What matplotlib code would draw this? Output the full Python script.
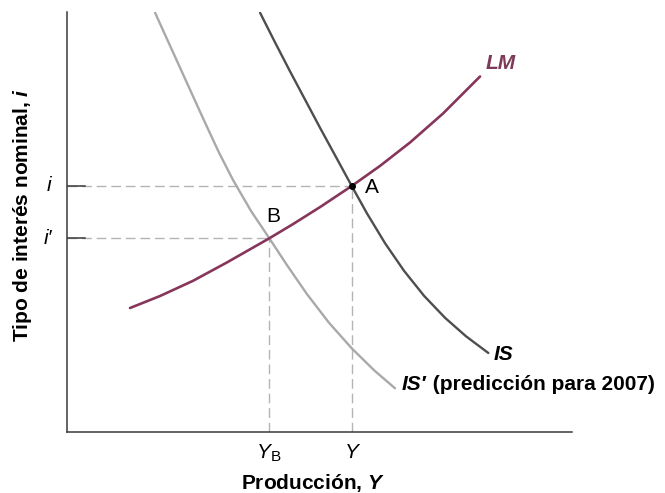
import numpy as np
import matplotlib
matplotlib.use("Agg")
import matplotlib.pyplot as plt

plt.rcParams['font.family'] = ['Liberation Sans', 'DejaVu Sans']
plt.rcParams['mathtext.fontset'] = 'custom'
plt.rcParams['mathtext.rm'] = 'Liberation Sans'
plt.rcParams['mathtext.it'] = 'Liberation Sans:italic'
plt.rcParams['mathtext.bf'] = 'Liberation Sans:bold'
if 'mathtext.bfit' in plt.rcParams:
    plt.rcParams['mathtext.bfit'] = 'Liberation Sans:bold:italic'
    BFIT = r'\mathbfit'
else:
    BFIT = r'\mathit'

# curves (output on x, interest rate on y)
is_x = [193, 208, 223, 238, 253, 268, 284.7, 300, 318, 337, 357, 378, 399, 421.3]
is_y = [419.3, 389.6, 360.6, 332.4, 304.2, 276.7, 246, 218.5, 188.8, 161.2, 136.2, 114.2, 95.7, 79]

is2_x = [88, 104, 120, 136, 152, 166, 184, 202.3, 220, 240, 262, 285, 307, 328]
is2_y = [419.3, 384.1, 348.9, 313.7, 279.3, 252, 221, 193.7, 166.8, 137.8, 109.2, 83.4, 61.8, 43.7]

lm_x = [63, 93, 126, 160, 202.3, 226, 253, 284.7, 313, 343, 376, 413]
lm_y = [124, 136, 151.2, 169.6, 193.7, 207.9, 224.9, 246, 266.1, 289.5, 318.5, 355.5]

# equilibria: A (original), B (IS')
eq_a = (284.7, 246)
eq_b = (202.3, 193.7)

FS = 15

fig = plt.figure(figsize=(6.65, 4.93), dpi=100)
ax = fig.add_axes([0.1008, 0.1237, 0.7594, 0.852])
ax.set_xlim(0, 505)
ax.set_ylim(0, 420)
for s in ['top', 'right']:
    ax.spines[s].set_visible(False)
for s in ['left', 'bottom']:
    ax.spines[s].set_color('#3a3a3a')
    ax.spines[s].set_linewidth(1.1)
ax.set_xticks([])
ax.set_yticks([])

dash = dict(color='#b4b4b4', lw=1.0, linestyle=(0, (7, 3.5)), zorder=1)
for (ex, ey) in [eq_a, eq_b]:
    ax.plot([0, ex], [ey, ey], **dash)
    ax.plot([ex, ex], [0, ey], **dash)
    ax.plot([0, 18], [ey, ey], color='#3a3a3a', lw=1.1, zorder=2)

ax.plot(is2_x, is2_y, color='#a9a9a9', lw=1.7, solid_capstyle='round', zorder=3)
ax.plot(is_x, is_y, color='#4e4e4e', lw=1.7, solid_capstyle='round', zorder=3)
ax.plot(lm_x, lm_y, color='#86365a', lw=1.9, solid_capstyle='round', zorder=4)
ax.plot(*eq_a, 'o', color='black', ms=4, zorder=5)

ax.text(305, 244, 'A', fontsize=FS, ha='center', va='center')
ax.text(206, 215, 'B', fontsize=FS, ha='center', va='center')
ax.text(434, 368, 'LM', fontsize=FS, fontweight='bold', style='italic',
        color='#7d3a5a', ha='center', va='center')
ax.text(436, 78, 'IS', fontsize=FS, fontweight='bold', style='italic',
        ha='center', va='center')
t_is2 = ax.text(335, 42, 'IS\u2032', fontsize=FS, fontweight='bold', style='italic',
                ha='left', va='baseline')
ax.annotate(' (predicción para 2007)', xy=(1, 0), xycoords=t_is2,
            fontsize=FS, fontweight='bold', ha='left', va='bottom',
            annotation_clip=False)

# axis value labels
ax.text(-18, eq_a[1], 'i', fontsize=FS, style='italic', ha='center', va='center')
ax.text(-19, eq_b[1], 'i\u2032', fontsize=FS, style='italic', ha='center', va='center')
t_y = ax.text(eq_b[0] + 1, -20, 'Y', fontsize=FS, style='italic', ha='right', va='center')
ax.annotate('B', xy=(1, 0), xycoords=t_y, xytext=(0, -2), textcoords='offset points',
            fontsize=11, ha='left', va='bottom', annotation_clip=False)
ax.text(eq_a[0], -20, 'Y', fontsize=FS, style='italic', ha='center', va='center')

fig.text(313 / 665, 1 - 483 / 493, 'Producción, $' + BFIT + '{Y}$', fontsize=FS,
         fontweight='bold', ha='center', va='center')
fig.text(23 / 665, 1 - 215 / 493, 'Tipo de interés nominal, $' + BFIT + '{i}$',
         fontsize=FS, fontweight='bold', rotation=90, ha='center', va='center')

fig.savefig('out.png', dpi=100)
